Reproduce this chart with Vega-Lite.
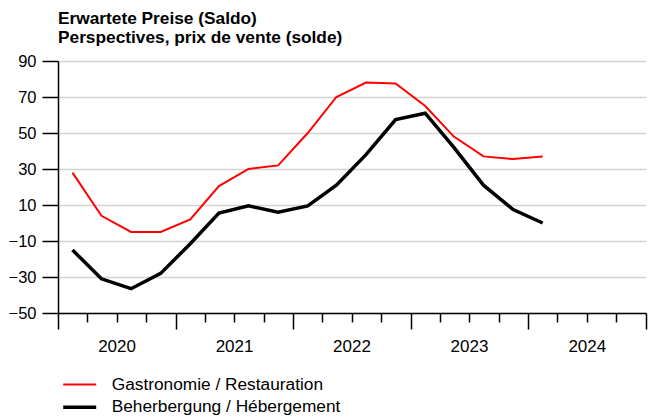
{
  "$schema": "https://vega.github.io/schema/vega-lite/v6.json",
  "width": 588,
  "height": 252,
  "autosize": "none",
  "padding": {"left": 58, "top": 61, "right": 17, "bottom": 106},
  "background": "white",
  "title": {
    "text": ["Erwartete Preise (Saldo)", "Perspectives, prix de vente (solde)"],
    "anchor": "start",
    "frame": "group",
    "font": "Liberation Sans",
    "fontSize": 17.3,
    "fontWeight": "bold",
    "lineHeight": 19,
    "offset": 7,
    "color": "black"
  },
  "data": {
    "values": [
      {"date": "2020-02-15", "series": "Gastronomie / Restauration", "value": 28},
      {"date": "2020-05-15", "series": "Gastronomie / Restauration", "value": 4},
      {"date": "2020-08-15", "series": "Gastronomie / Restauration", "value": -5},
      {"date": "2020-11-15", "series": "Gastronomie / Restauration", "value": -5},
      {"date": "2021-02-15", "series": "Gastronomie / Restauration", "value": 2},
      {"date": "2021-05-15", "series": "Gastronomie / Restauration", "value": 20.5},
      {"date": "2021-08-15", "series": "Gastronomie / Restauration", "value": 30},
      {"date": "2021-11-15", "series": "Gastronomie / Restauration", "value": 32},
      {"date": "2022-02-15", "series": "Gastronomie / Restauration", "value": 50},
      {"date": "2022-05-15", "series": "Gastronomie / Restauration", "value": 70},
      {"date": "2022-08-15", "series": "Gastronomie / Restauration", "value": 78},
      {"date": "2022-11-15", "series": "Gastronomie / Restauration", "value": 77.5},
      {"date": "2023-02-15", "series": "Gastronomie / Restauration", "value": 65},
      {"date": "2023-05-15", "series": "Gastronomie / Restauration", "value": 48},
      {"date": "2023-08-15", "series": "Gastronomie / Restauration", "value": 37},
      {"date": "2023-11-15", "series": "Gastronomie / Restauration", "value": 35.5},
      {"date": "2024-02-15", "series": "Gastronomie / Restauration", "value": 37},
      {"date": "2020-02-15", "series": "Beherbergung / Hébergement", "value": -15},
      {"date": "2020-05-15", "series": "Beherbergung / Hébergement", "value": -31},
      {"date": "2020-08-15", "series": "Beherbergung / Hébergement", "value": -36.5},
      {"date": "2020-11-15", "series": "Beherbergung / Hébergement", "value": -28},
      {"date": "2021-02-15", "series": "Beherbergung / Hébergement", "value": -11.5},
      {"date": "2021-05-15", "series": "Beherbergung / Hébergement", "value": 5.5},
      {"date": "2021-08-15", "series": "Beherbergung / Hébergement", "value": 9.5},
      {"date": "2021-11-15", "series": "Beherbergung / Hébergement", "value": 6},
      {"date": "2022-02-15", "series": "Beherbergung / Hébergement", "value": 9.5},
      {"date": "2022-05-15", "series": "Beherbergung / Hébergement", "value": 21},
      {"date": "2022-08-15", "series": "Beherbergung / Hébergement", "value": 38},
      {"date": "2022-11-15", "series": "Beherbergung / Hébergement", "value": 57.5},
      {"date": "2023-02-15", "series": "Beherbergung / Hébergement", "value": 61},
      {"date": "2023-05-15", "series": "Beherbergung / Hébergement", "value": 42},
      {"date": "2023-08-15", "series": "Beherbergung / Hébergement", "value": 21},
      {"date": "2023-11-15", "series": "Beherbergung / Hébergement", "value": 7.5},
      {"date": "2024-02-15", "series": "Beherbergung / Hébergement", "value": 0}
    ]
  },
  "mark": {"type": "line", "interpolate": "linear", "strokeJoin": "miter", "strokeCap": "butt"},
  "encoding": {
    "x": {
      "field": "date",
      "type": "temporal",
      "scale": {
        "type": "utc",
        "domain": [
          {"year": 2020, "month": 1, "date": 1, "utc": true},
          {"year": 2025, "month": 1, "date": 1, "utc": true}
        ],
        "nice": false
      },
      "axis": {
        "title": null,
        "grid": false,
        "values": [
          {"year": 2020, "month": 1, "date": 1, "utc": true},
          {"year": 2020, "month": 4, "date": 1, "utc": true},
          {"year": 2020, "month": 7, "date": 1, "utc": true},
          {"year": 2020, "month": 10, "date": 1, "utc": true},
          {"year": 2021, "month": 1, "date": 1, "utc": true},
          {"year": 2021, "month": 4, "date": 1, "utc": true},
          {"year": 2021, "month": 7, "date": 1, "utc": true},
          {"year": 2021, "month": 10, "date": 1, "utc": true},
          {"year": 2022, "month": 1, "date": 1, "utc": true},
          {"year": 2022, "month": 4, "date": 1, "utc": true},
          {"year": 2022, "month": 7, "date": 1, "utc": true},
          {"year": 2022, "month": 10, "date": 1, "utc": true},
          {"year": 2023, "month": 1, "date": 1, "utc": true},
          {"year": 2023, "month": 4, "date": 1, "utc": true},
          {"year": 2023, "month": 7, "date": 1, "utc": true},
          {"year": 2023, "month": 10, "date": 1, "utc": true},
          {"year": 2024, "month": 1, "date": 1, "utc": true},
          {"year": 2024, "month": 4, "date": 1, "utc": true},
          {"year": 2024, "month": 7, "date": 1, "utc": true},
          {"year": 2024, "month": 10, "date": 1, "utc": true},
          {"year": 2025, "month": 1, "date": 1, "utc": true}
        ],
        "labelExpr": "utcmonth(datum.value) === 6 ? utcFormat(datum.value, '%Y') : ''",
        "labelOverlap": false,
        "labelFont": "Liberation Sans",
        "labelFontSize": 17,
        "labelColor": "black",
        "labelPadding": 16,
        "labelBaseline": "top",
        "domainColor": "black",
        "domainWidth": 1.5,
        "tickColor": "black",
        "tickWidth": 1.5,
        "tickSize": {"condition": {"test": "utcmonth(datum.value) === 0", "value": 16}, "value": 9}
      }
    },
    "y": {
      "field": "value",
      "type": "quantitative",
      "scale": {"domain": [-50, 90], "nice": false, "zero": false},
      "axis": {
        "title": null,
        "values": [-50, -30, -10, 10, 30, 50, 70, 90],
        "grid": true,
        "gridColor": "#d3d3d3",
        "gridWidth": 1.5,
        "domainColor": "black",
        "domainWidth": 1.5,
        "tickColor": "black",
        "tickWidth": 1.5,
        "tickSize": 16,
        "labelPadding": 6,
        "labelFont": "Liberation Sans",
        "labelFontSize": 16.5,
        "labelColor": "black"
      }
    },
    "color": {
      "field": "series",
      "type": "nominal",
      "scale": {
        "domain": ["Gastronomie / Restauration", "Beherbergung / Hébergement"],
        "range": ["#ff0000", "#000000"]
      },
      "legend": {
        "title": null,
        "orient": "none",
        "legendX": 11.7,
        "legendY": 314,
        "symbolType": "M-2,0H2",
        "symbolSize": 272,
        "labelOffset": 22,
        "rowPadding": 4.3,
        "labelFont": "Liberation Sans",
        "labelFontSize": 17.3,
        "labelColor": "black",
        "labelLimit": 400
      }
    },
    "strokeWidth": {
      "field": "series",
      "type": "nominal",
      "scale": {
        "domain": ["Gastronomie / Restauration", "Beherbergung / Hébergement"],
        "range": [2, 3.5]
      },
      "legend": {
        "title": null,
        "orient": "none",
        "legendX": 11.7,
        "legendY": 314,
        "symbolType": "M-2,0H2",
        "symbolSize": 272,
        "labelOffset": 22,
        "rowPadding": 4.3,
        "labelFont": "Liberation Sans",
        "labelFontSize": 17.3,
        "labelColor": "black",
        "labelLimit": 400
      }
    }
  },
  "config": {"view": {"stroke": null}}
}
